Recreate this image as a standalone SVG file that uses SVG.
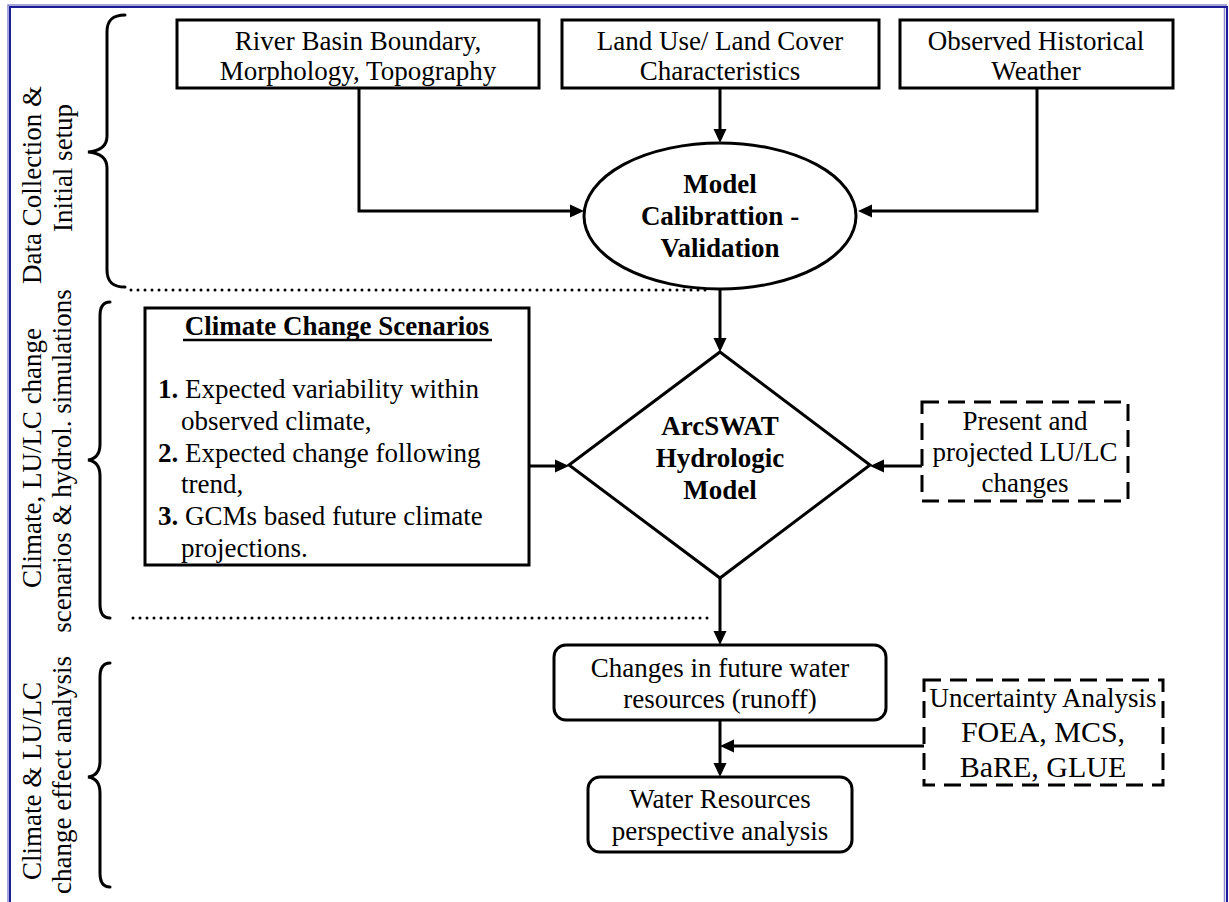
<svg xmlns="http://www.w3.org/2000/svg" width="1229" height="902" viewBox="0 0 1229 902">
<style>
text{font-family:"Liberation Serif","Times New Roman",serif;font-size:27px;fill:#000}
.c{text-anchor:middle}
.b{font-weight:bold}
.box{fill:#fff;stroke:#000;stroke-width:3}
.dash{fill:#fff;stroke:#000;stroke-width:3;stroke-dasharray:17 9}
.conn{fill:none;stroke:#000;stroke-width:3}
.brace{fill:none;stroke:#000;stroke-width:3;stroke-linecap:round}
.dot{fill:none;stroke:#000;stroke-width:3;stroke-linecap:round;stroke-dasharray:0 7}
</style>
<defs>
<marker id="ah" markerUnits="userSpaceOnUse" markerWidth="14" markerHeight="14" refX="10" refY="7" orient="auto">
<path d="M0,0.5 L14,7 L0,13.5 z" fill="#000"/>
</marker>
</defs>
<rect width="1229" height="902" fill="#fff"/>
<g id="frame">
<polyline points="8,902 8,5 1227,5" fill="none" stroke="#8a8ad0" stroke-width="1.5"/>
<polyline points="10,902 10,7 1227,7 1227,902" fill="none" stroke="#1c1c96" stroke-width="2"/>
<line x1="1224.5" y1="8" x2="1224.5" y2="902" stroke="#8a8ad0" stroke-width="1.5"/>
</g>
<g id="section-labels">
<path class="brace" d="M125,15 C113,15 107,20 107,32 V136 C107,146 100,151 88,152 C100,153 107,158 107,168 V270 C107,282 113,287 125,287"/>
<path class="brace" d="M110,302 C104,302 100,306 100,316 V444 C100,454 96,459 88,460 C96,461 100,466 100,476 V604 C100,614 104,618 110,618"/>
<path class="brace" d="M110,663 C104,663 100,667 100,677 V761 C100,771 96,776 88,777 C96,778 100,783 100,793 V873 C100,883 104,887 110,887"/>
<text class="c" transform="translate(41,185) rotate(-90)">Data Collection &amp;</text>
<text class="c" transform="translate(72,168) rotate(-90)">Initial setup</text>
<text class="c" transform="translate(41,458) rotate(-90)">Climate, LU/LC change</text>
<text class="c" transform="translate(71,461) rotate(-90)">scenarios &amp; hydrol. simulations</text>
<text class="c" transform="translate(41,781) rotate(-90)">Climate &amp; LU/LC</text>
<text class="c" transform="translate(71,775) rotate(-90)">change effect analysis</text>
<line class="dot" x1="131" y1="290" x2="712" y2="290"/>
<line class="dot" x1="133" y1="618" x2="714" y2="618"/>
</g>
<g id="connectors">
<path class="conn" d="M359,88 V211 H580" marker-end="url(#ah)"/>
<path class="conn" d="M720,88 V139" marker-end="url(#ah)"/>
<path class="conn" d="M1037,88 V211 H862" marker-end="url(#ah)"/>
<path class="conn" d="M720,289 V348" marker-end="url(#ah)"/>
<path class="conn" d="M529,466 H565" marker-end="url(#ah)"/>
<path class="conn" d="M922,466 H874" marker-end="url(#ah)"/>
<path class="conn" d="M720,578 V641" marker-end="url(#ah)"/>
<path class="conn" d="M720,720 V773" marker-end="url(#ah)"/>
<path class="conn" d="M924,746 H724" marker-end="url(#ah)"/>
</g>
<g id="river-basin">
<rect class="box" x="177" y="20" width="362" height="68"/>
<text class="c" x="358" y="50">River Basin Boundary,</text>
<text class="c" x="358" y="80">Morphology, Topography</text>
</g>
<g id="land-use">
<rect class="box" x="562" y="20" width="317" height="68"/>
<text class="c" x="720" y="50">Land Use/ Land Cover</text>
<text class="c" x="720" y="80">Characteristics</text>
</g>
<g id="weather">
<rect class="box" x="900" y="20" width="273" height="68"/>
<text class="c" x="1036" y="50">Observed Historical</text>
<text class="c" x="1036" y="80">Weather</text>
</g>
<g id="calibration">
<ellipse class="box" cx="720" cy="216" rx="136" ry="73"/>
<text class="c b" x="720" y="193">Model</text>
<text class="c b" x="720" y="225">Calibrattion -</text>
<text class="c b" x="720" y="257">Validation</text>
</g>
<g id="scenarios">
<rect class="box" x="145" y="308" width="384" height="257"/>
<text class="c b" x="337" y="335">Climate Change Scenarios</text>
<line x1="183" y1="340" x2="492" y2="340" stroke="#000" stroke-width="2.5"/>
<text x="158" y="398"><tspan class="b">1.</tspan> Expected variability within</text>
<text x="181" y="430">observed climate,</text>
<text x="158" y="462"><tspan class="b">2.</tspan> Expected change following</text>
<text x="181" y="493">trend,</text>
<text x="158" y="525"><tspan class="b">3.</tspan> GCMs based future climate</text>
<text x="181" y="557">projections.</text>
</g>
<g id="arcswat">
<polygon class="box" points="720,352 870,465 720,578 569,465"/>
<text class="c b" x="720" y="435">ArcSWAT</text>
<text class="c b" x="720" y="467">Hydrologic</text>
<text class="c b" x="720" y="499">Model</text>
</g>
<g id="lulc-changes">
<rect class="dash" x="922" y="402" width="206" height="99"/>
<text class="c" x="1025" y="430">Present and</text>
<text class="c" x="1025" y="461">projected LU/LC</text>
<text class="c" x="1025" y="492">changes</text>
</g>
<g id="water-changes">
<rect class="box" x="554" y="645" width="332" height="75" rx="12"/>
<text class="c" x="720" y="677">Changes in future water</text>
<text class="c" x="720" y="708">resources (runoff)</text>
</g>
<g id="uncertainty">
<rect class="dash" x="924" y="680" width="239" height="105"/>
<text class="c" x="1043" y="707">Uncertainty Analysis</text>
<text class="c" x="1043" y="742" style="font-size:30px">FOEA, MCS,</text>
<text class="c" x="1043" y="777" style="font-size:30px">BaRE, GLUE</text>
</g>
<g id="perspective">
<rect class="box" x="588" y="777" width="264" height="75" rx="12"/>
<text class="c" x="720" y="808">Water Resources</text>
<text class="c" x="720" y="840">perspective analysis</text>
</g>
</svg>
